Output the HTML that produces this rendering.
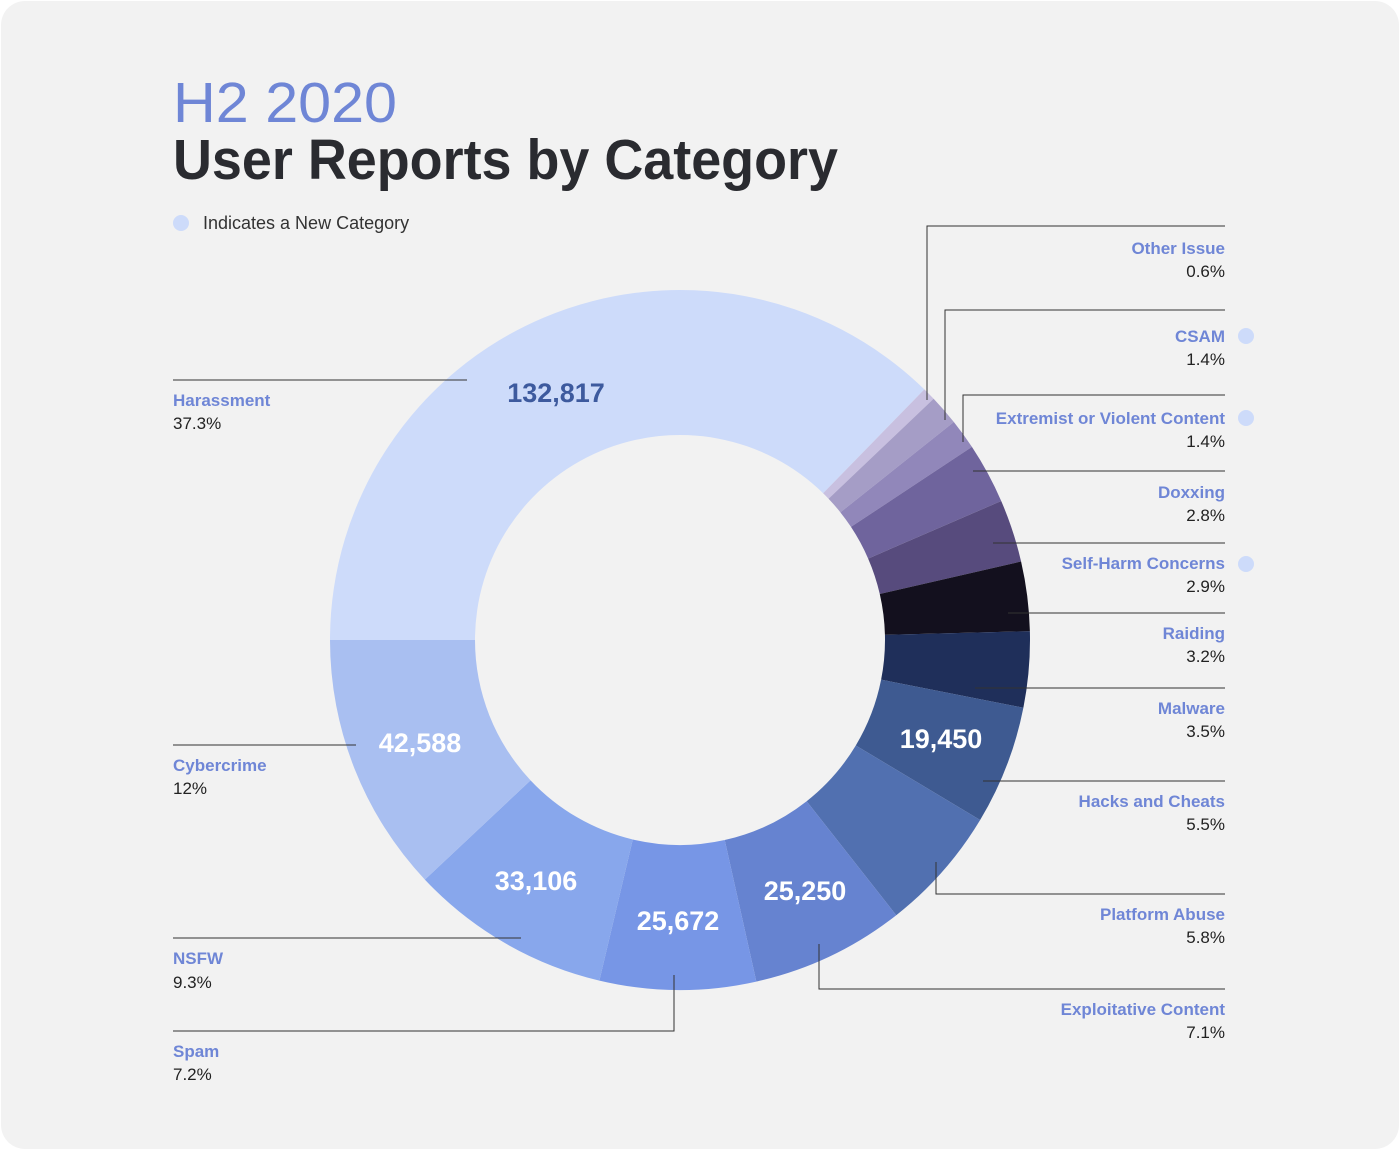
<!DOCTYPE html>
<html><head><meta charset="utf-8"><style>
html,body{margin:0;padding:0;background:#fff;width:1400px;height:1150px;overflow:hidden}
svg{display:block}
text{font-family:"Liberation Sans",sans-serif}
.n{font-weight:bold;font-size:17px;fill:#6f86d6}
.p{font-size:17px;fill:#222}
.v{font-weight:bold;font-size:27px;fill:#fff}
line,polyline{stroke:#333;stroke-width:1;fill:none}
</style></head><body>
<svg id="s" width="1400" height="1150" viewBox="0 0 1400 1150">
<rect x="1" y="1" width="1398" height="1148" rx="24" fill="#f2f2f2"/>
<text x="173" y="122" font-size="57" fill="#6f86d6" textLength="224" lengthAdjust="spacingAndGlyphs">H2 2020</text>
<text x="173" y="179" font-size="57" font-weight="bold" fill="#2a2b30" textLength="665" lengthAdjust="spacingAndGlyphs">User Reports by Category</text>
<circle cx="181" cy="223" r="8" fill="#cddbfa"/>
<text x="203" y="229" font-size="18" fill="#333">Indicates a New Category</text>
<g id="donut"></g>
<!-- leader lines -->
<polyline points="927,400 927,226 1225,226"/>
<polyline points="945,420 945,310 1225,310"/>
<polyline points="963,442 963,395 1225,395"/>
<line x1="973" y1="471" x2="1225" y2="471"/>
<line x1="993" y1="543" x2="1225" y2="543"/>
<line x1="1008" y1="613" x2="1225" y2="613"/>
<line x1="975" y1="688" x2="1225" y2="688"/>
<line x1="983" y1="781" x2="1225" y2="781"/>
<polyline points="936,862 936,894 1225,894"/>
<polyline points="819,944 819,989 1225,989"/>
<line x1="173" y1="380" x2="467" y2="380"/>
<line x1="173" y1="745" x2="356" y2="745"/>
<line x1="173" y1="938" x2="521" y2="938"/>
<polyline points="674,975 674,1031 173,1031"/>
<g text-anchor="end">
<text class="n" x="1225" y="254">Other Issue</text><text class="p" x="1225" y="277">0.6%</text>
<text class="n" x="1225" y="342">CSAM</text><text class="p" x="1225" y="365">1.4%</text>
<text class="n" x="1225" y="424">Extremist or Violent Content</text><text class="p" x="1225" y="447">1.4%</text>
<text class="n" x="1225" y="498">Doxxing</text><text class="p" x="1225" y="521">2.8%</text>
<text class="n" x="1225" y="569">Self-Harm Concerns</text><text class="p" x="1225" y="592">2.9%</text>
<text class="n" x="1225" y="639">Raiding</text><text class="p" x="1225" y="662">3.2%</text>
<text class="n" x="1225" y="714">Malware</text><text class="p" x="1225" y="737">3.5%</text>
<text class="n" x="1225" y="807">Hacks and Cheats</text><text class="p" x="1225" y="830">5.5%</text>
<text class="n" x="1225" y="920">Platform Abuse</text><text class="p" x="1225" y="943">5.8%</text>
<text class="n" x="1225" y="1015">Exploitative Content</text><text class="p" x="1225" y="1038">7.1%</text>
</g>
<circle cx="1246" cy="336" r="8" fill="#cddbfa"/>
<circle cx="1246" cy="418" r="8" fill="#cddbfa"/>
<circle cx="1246" cy="564" r="8" fill="#cddbfa"/>
<text class="n" x="173" y="406">Harassment</text><text class="p" x="173" y="429">37.3%</text>
<text class="n" x="173" y="771">Cybercrime</text><text class="p" x="173" y="794">12%</text>
<text class="n" x="173" y="964">NSFW</text><text class="p" x="173" y="988">9.3%</text>
<text class="n" x="173" y="1057">Spam</text><text class="p" x="173" y="1080">7.2%</text>
<g text-anchor="middle">
<text class="v" x="556" y="402" style="fill:#3d5a9e">132,817</text>
<text class="v" x="420" y="752">42,588</text>
<text class="v" x="536" y="890">33,106</text>
<text class="v" x="678" y="930">25,672</text>
<text class="v" x="805" y="900">25,250</text>
<text class="v" x="941" y="748">19,450</text>
</g>
</svg>
<script>
var d=[[37.3,"#cddbfa"],[0.6,"#c8c0e0"],[1.4,"#a59dc6"],[1.4,"#9187ba"],[2.8,"#6f649d"],[2.9,"#574b7d"],[3.2,"#13101e"],[3.5,"#1f2f5a"],[5.5,"#3e5a91"],[5.8,"#5170b0"],[7.1,"#6683d0"],[7.2,"#7796e6"],[9.3,"#88a7ec"],[12,"#a9bff1"]];
var cx=680,cy=640,R=350,r=205,a=-90,h="";
function pt(rad,ang){var t=ang*Math.PI/180;return (cx+rad*Math.sin(t)).toFixed(2)+","+(cy-rad*Math.cos(t)).toFixed(2);}
d.forEach(function(e){var b=a+e[0]*3.6,l=e[0]*3.6>180?1:0;
h+='<path fill="'+e[1]+'" d="M'+pt(R,a)+' A'+R+','+R+' 0 '+l+' 1 '+pt(R,b)+' L'+pt(r,b)+' A'+r+','+r+' 0 '+l+' 0 '+pt(r,a)+'Z"/>';a=b;});
document.getElementById("donut").innerHTML=h;
</script>
</body></html>
